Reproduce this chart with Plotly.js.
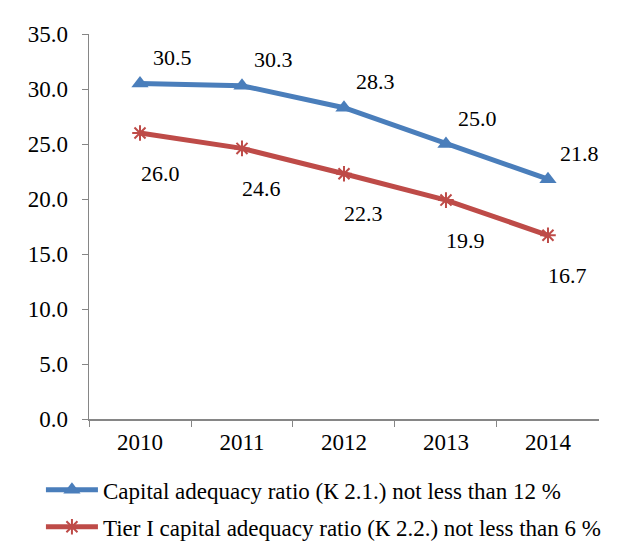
<!DOCTYPE html>
<html>
<head>
<meta charset="utf-8">
<script src="https://cdn.plot.ly/plotly-3.0.1.min.js"></script>
<style>
  body { margin: 0; background: #fff; }
  #chart { width: 629px; height: 551px; }
</style>
</head>
<body>
<div id="chart"></div>
<script>
// years on the x axis
var years = ["2010", "2011", "2012", "2013", "2014"];

// capital adequacy ratios, %
var capitalRatio = [30.5, 30.3, 28.3, 25.0, 21.8];
var tier1Ratio = [26.0, 24.6, 22.3, 19.9, 16.7];

var capitalName = "Capital adequacy ratio (К 2.1.) not less than 12 %";
var tier1Name = "Tier I capital adequacy ratio (К 2.2.) not less than 6 %";

var yTicks = [0, 5, 10, 15, 20, 25, 30, 35];

var blue = "#4a7ebb";
var red = "#be4b48";
var serif = "Liberation Serif";
var fs = 23;

var data = [
    {
        x: years,
        y: capitalRatio,
        name: capitalName,
        legendgroup: "k21",
        type: "scatter",
        mode: "lines+markers",
        line: {color: blue, width: 5},
        marker: {symbol: "triangle-up", size: 15, color: blue}
    },
    {
        x: years,
        y: tier1Ratio,
        name: tier1Name,
        legendgroup: "k22",
        type: "scatter",
        mode: "lines+markers",
        line: {color: red, width: 5},
        marker: {symbol: "asterisk-open", size: 13, color: red, line: {color: red, width: 2}}
    }
];

// value labels: blue above-right, red below-right
// (category axis: annotation x is the category index)
var annotations = [];
for (var i = 0; i < years.length; i++) {
    annotations.push({
        x: i, y: capitalRatio[i], text: capitalRatio[i].toFixed(1),
        xref: "x", yref: "y",
        showarrow: false, xshift: 32, yshift: 26,
        font: {family: serif, size: 22, color: "#000"}
    });
    annotations.push({
        x: i, y: tier1Ratio[i], text: tier1Ratio[i].toFixed(1),
        xref: "x", yref: "y",
        showarrow: false, xshift: 20, yshift: -40,
        font: {family: serif, size: 22, color: "#000"}
    });
}

// margin.r = 0 keeps the legend from pushing the plot up;
// the x domain brings the right edge back in
var layout = {
    width: 629,
    height: 551,
    margin: {l: 89, r: 0, t: 34, b: 132},
    paper_bgcolor: "#fff",
    plot_bgcolor: "#fff",
    font: {family: serif, size: fs, color: "#000"},
    showlegend: true,
    legend: {
        x: -0.089, xanchor: "left",
        y: -0.336, yanchor: "bottom",
        orientation: "v",
        font: {family: serif, size: fs, color: "#000"},
        tracegroupgap: 4,
        itemwidth: 52
    },
    xaxis: {
        type: "category",
        domain: [0, 0.9444],
        range: [-0.5, 4.5],
        showgrid: false,
        zeroline: false,
        showline: true,
        linecolor: "#868686",
        linewidth: 1.5,
        ticks: "outside",
        tickson: "boundaries",
        ticklen: 6,
        tickcolor: "#868686",
        ticklabelstandoff: 2,
        tickfont: {family: serif, size: fs, color: "#000"}
    },
    yaxis: {
        range: [0, 35],
        tickvals: yTicks,
        tickformat: ".1f",
        showgrid: false,
        zeroline: false,
        showline: true,
        linecolor: "#868686",
        linewidth: 1.5,
        ticks: "outside",
        ticklen: 6,
        tickcolor: "#868686",
        ticklabelstandoff: 9,
        tickfont: {family: serif, size: fs, color: "#000"}
    },
    annotations: annotations
};

Plotly.newPlot("chart", data, layout, {displayModeBar: false, staticPlot: true});
</script>
</body>
</html>
